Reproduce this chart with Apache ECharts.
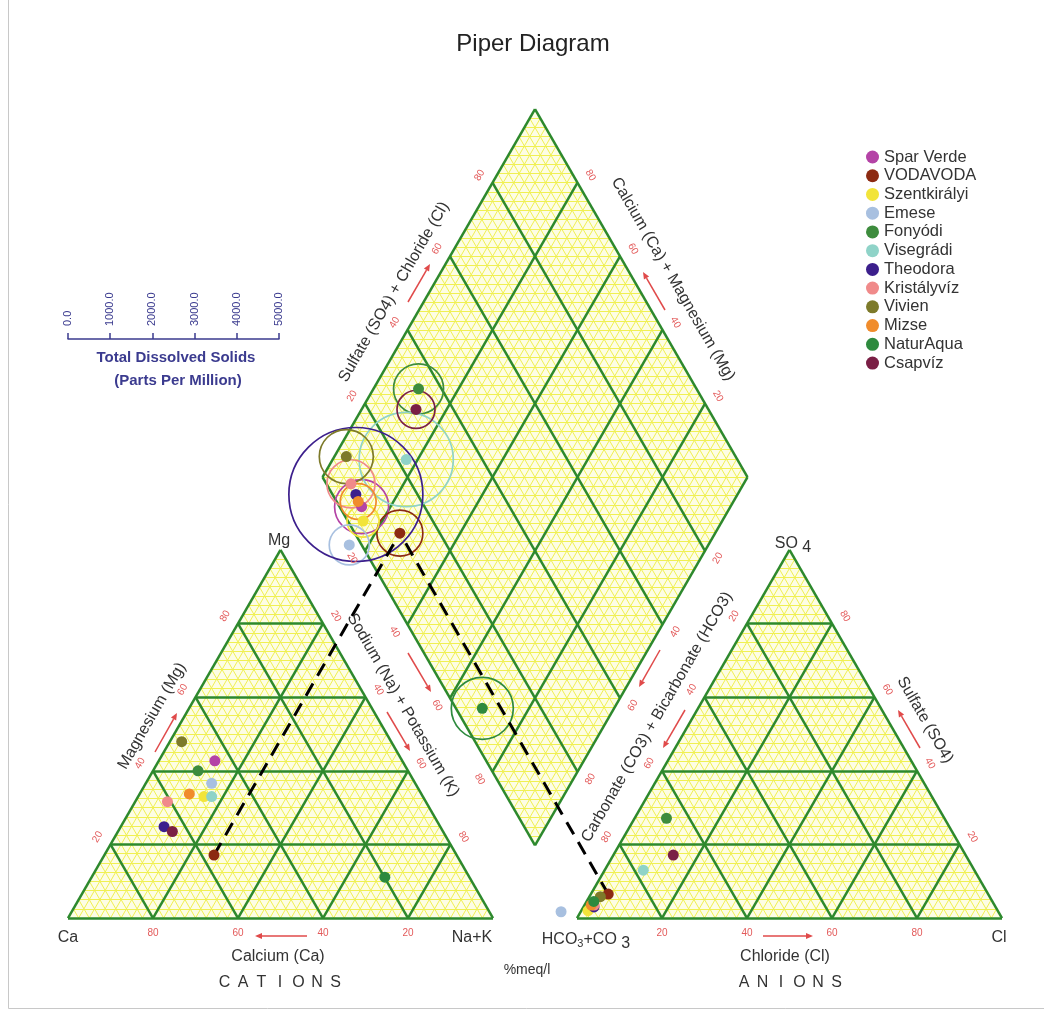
<!DOCTYPE html>
<html><head><meta charset="utf-8">
<script src="https://cdn.jsdelivr.net/npm/echarts@6/dist/echarts.min.js"></script>
<style>html,body{margin:0;padding:0;background:#fff}#c{width:1044px;height:1012px}</style>
</head><body><div id="c"></div>
<script>
// ---------------- DATA ----------------
const samples = ['Spar Verde','VODAVODA','Szentkirályi','Emese','Fonyódi','Visegrádi','Theodora','Kristályvíz','Vivien','Mizse','NaturAqua','Csapvíz'];
const sampleColors = ['#b443a6','#8c2a12','#f2e43a','#a8c0e0','#3d8c3d','#8fd3c8','#3c1f8c','#f08a8a','#7d7a2a','#f08c2c','#2e8a3e','#7a1f45'];
// cations, % meq/l (Ca = 100 - Mg - NaK)
const cationMg  = [42.7, 17.1, 33.0, 36.6, 40.0, 33.0, 24.8, 31.6, 47.9, 33.7, 11.1, 23.5];
const cationNaK = [13.2, 25.8, 15.5, 15.5, 10.6, 17.3, 10.2,  7.6,  2.8, 11.7, 69.0, 12.8];
// anions, % meq/l (HCO3+CO3 = 100 - SO4 - Cl)
const anionSO4  = [ 3.4,  6.5,  2.0,  1.7, 27.1, 13.0,  3.0,  3.5,  5.8,  3.5,  4.5, 17.1];
const anionCl   = [ 1.8,  4.1,  1.6, -4.6,  7.5,  9.1,  2.5,  2.3,  2.6,  1.6,  1.7, 14.1];
// total dissolved solids, ppm
const tdsPpm    = [1280, 1090, 760, 950, 1185, 2230, 3175, 1140, 1280, 850, 1470, 900];
const tickValues = [20, 40, 60, 80];
const tdsScaleMax = 5000, tdsScaleStep = 1000;
const dashedSample = 'VODAVODA';

// ---------------- LAYOUT ----------------
const PX = 4.25;                 // pixels per percent of triangle side
const X0 = 68, Y0 = 918;          // pixel position of the Ca vertex
const GAP = 84 / PX;              // gap between the two triangles (units)
const H = Math.sqrt(3) / 2;
const TDS_LEN_PX = 211;
const F = 'Liberation Sans, Arial, Helvetica, sans-serif';

function cat(mg, nak) { return [nak + mg / 2, mg * H]; }
function an(so4, cl) { return [100 + GAP + cl + so4 / 2, so4 * H]; }
const BX = 100 + GAP / 2, BY = GAP / 2 * Math.sqrt(3);
function dia(a, b) { return [BX + 0.5 * (b - a), BY + H * (a + b)]; }

const catPts = samples.map((s, i) => cat(cationMg[i], cationNaK[i]));
const anPts = samples.map((s, i) => an(anionSO4[i], anionCl[i]));
const diaPts = samples.map((s, i) => dia(100 - cationNaK[i], anionSO4[i] + anionCl[i]));

// grid segments
const minorSegs = [], majorSegs = [];
function triLines(fn, k, arr) {
  arr.push([fn(k, 0), fn(k, 100 - k)]);
  arr.push([fn(0, k), fn(100 - k, k)]);
  arr.push([fn(0, 100 - k), fn(100 - k, 0)]);
}
for (let k = 2.5; k < 100; k += 2.5) {
  triLines(cat, k, minorSegs); triLines(an, k, minorSegs);
  minorSegs.push([dia(k, 0), dia(k, 100)]);
  minorSegs.push([dia(0, k), dia(100, k)]);
}
for (let s = 2.5; s < 200; s += 2.5) {
  if (s <= 100) minorSegs.push([dia(s, 0), dia(0, s)]);
  else minorSegs.push([dia(100, s - 100), dia(s - 100, 100)]);
}
for (let k = 0; k < 100; k += 20) { triLines(cat, k, majorSegs); triLines(an, k, majorSegs); }
for (let k = 0; k <= 100; k += 20) {
  majorSegs.push([dia(k, 0), dia(k, 100)]);
  majorSegs.push([dia(0, k), dia(100, k)]);
}
const shapes = [
  [cat(0, 0), cat(0, 100), cat(100, 0)],
  [an(0, 0), an(0, 100), an(100, 0)],
  [dia(0, 0), dia(100, 0), dia(100, 100), dia(0, 100)]
];

// tick labels
const OFF = 3.5;
const tickItems = [], tickTexts = [];
function addTick(p, n, rot, t) { tickItems.push([p[0] + n[0] * OFF, p[1] + n[1] * OFF, rot]); tickTexts.push(String(t)); }
tickValues.forEach(t => {
  addTick(cat(0, 100 - t), [0, -1], 0, t);
  addTick(cat(t, 0), [-H, 0.5], 60, t);
  addTick(cat(100 - t, t), [H, 0.5], -60, t);
  addTick(an(0, t), [0, -1], 0, t);
  addTick(an(100 - t, 0), [-H, 0.5], 60, t);
  addTick(an(t, 100 - t), [H, 0.5], -60, t);
  addTick(dia(100 - t, 0), [-H, -0.5], -60, t);
  addTick(dia(100, t), [-H, 0.5], 60, t);
  addTick(dia(t, 100), [H, 0.5], -60, t);
  addTick(dia(0, 100 - t), [H, -0.5], 60, t);
});

// ---------------- SERIES ----------------
const series = [];
series.push({
  type: 'custom', name: 'bg', silent: true, z: 1, xAxisIndex: 0, yAxisIndex: 0,
  data: shapes.map((s, i) => [i]),
  renderItem: (params, api) => ({
    type: 'polygon',
    shape: { points: shapes[params.dataIndex].map(p => api.coord(p)) },
    style: { fill: '#fdfde4', stroke: 'none' }
  })
});
series.push({
  type: 'lines', name: 'minor', coordinateSystem: 'cartesian2d', silent: true, z: 2,
  data: minorSegs.map(c => ({ coords: c })),
  lineStyle: { color: '#f0f052', width: 1.0, opacity: 1 }
});
series.push({
  type: 'lines', name: 'major', coordinateSystem: 'cartesian2d', silent: true, z: 3,
  data: majorSegs.map(c => ({ coords: c })),
  lineStyle: { color: '#2d892d', width: 2.5, opacity: 1 }
});
series.push({
  type: 'custom', name: 'tds', silent: true, z: 4,
  data: samples.map((s, i) => [diaPts[i][0], diaPts[i][1], tdsPpm[i] / tdsScaleMax * TDS_LEN_PX / PX / 2]),
  renderItem: (params, api) => {
    const c = api.coord([api.value(0), api.value(1)]);
    const r = api.size([api.value(2), 0])[0];
    return { type: 'circle', shape: { cx: c[0], cy: c[1], r: r },
      style: { fill: 'none', stroke: sampleColors[params.dataIndex], lineWidth: 1.7 } };
  }
});
const di = samples.indexOf(dashedSample);
series.push({
  type: 'lines', name: 'link', coordinateSystem: 'cartesian2d', silent: true, z: 5,
  data: [{ coords: [catPts[di], diaPts[di]] }, { coords: [anPts[di], diaPts[di]] }],
  lineStyle: { color: '#000', width: 3, type: [14, 9], opacity: 1 }
});
samples.forEach((s, i) => {
  series.push({
    type: 'scatter', name: s, z: 6, symbol: 'circle', symbolSize: 11,
    itemStyle: { color: sampleColors[i], opacity: 1 },
    data: [catPts[i], anPts[i], diaPts[i]]
  });
});
series.push({
  type: 'custom', name: 'ticks', silent: true, z: 7,
  data: tickItems,
  renderItem: (params, api) => {
    const c = api.coord([api.value(0), api.value(1)]);
    return { type: 'text', x: c[0], y: c[1], rotation: api.value(2) * Math.PI / 180,
      style: { text: tickTexts[params.dataIndex], fill: '#e35a5a', fontSize: 10, fontFamily: F, align: 'center', verticalAlign: 'middle' } };
  }
});
// TDS scale (separate axis)
series.push({ type: 'scatter', xAxisIndex: 1, yAxisIndex: 1, data: [], silent: true });

// ---------------- GRAPHICS ----------------
const g = [];
function txt(x, y, text, size, opts) {
  g.push(Object.assign({ type: 'text', x: x, y: y, z: 10, silent: true,
    style: Object.assign({ text: text, fill: '#333', fontSize: size, fontFamily: F, align: 'center', verticalAlign: 'middle' }, (opts && opts.style) || {}) },
    opts && opts.rotation !== undefined ? { rotation: opts.rotation } : {}));
}
function arrow(x1, y1, x2, y2) {
  const a = Math.atan2(y2 - y1, x2 - x1), hl = 7, hw = 3;
  const bx = x2 - hl * Math.cos(a), by = y2 - hl * Math.sin(a);
  g.push({ type: 'line', silent: true, z: 10, shape: { x1: x1, y1: y1, x2: bx, y2: by }, style: { stroke: '#e04a4a', lineWidth: 1.5 } });
  g.push({ type: 'polygon', silent: true, z: 10, shape: { points: [[x2, y2], [bx - hw * Math.sin(a), by + hw * Math.cos(a)], [bx + hw * Math.sin(a), by - hw * Math.cos(a)]] }, style: { fill: '#e04a4a' } });
}
txt(533, 44, 'Piper Diagram', 24, { style: { fill: '#222' } });
txt(279, 541, 'Mg', 16);
txt(68, 938, 'Ca', 16);
txt(472, 938, 'Na+K', 16);
txt(278, 957, 'Calcium (Ca)', 16);
txt(999, 938, 'Cl', 16);
txt(785, 957, 'Chloride (Cl)', 16);
txt(527, 970, '%meq/l', 14);
g.push({ type: 'text', x: 586, y: 940, z: 10, silent: true, style: { text: '{a|HCO}{s|3}{a|+CO }{b|3}', fontFamily: F, fill: '#333', align: 'center', verticalAlign: 'middle',
  rich: { a: { fontSize: 16, fontFamily: F, fill: '#333', lineHeight: 22, verticalAlign: 'middle' }, s: { fontSize: 11, fontFamily: F, fill: '#333', lineHeight: 22, padding: [8, 0, 0, 0] }, b: { fontSize: 16, fontFamily: F, fill: '#333', lineHeight: 22, padding: [7, 0, 0, 0] } } } });
g.push({ type: 'text', x: 793, y: 544, z: 10, silent: true, style: { text: '{a|SO }{b|4}', fontFamily: F, fill: '#333', align: 'center', verticalAlign: 'middle',
  rich: { a: { fontSize: 16, fontFamily: F, fill: '#333', lineHeight: 22 }, b: { fontSize: 16, fontFamily: F, fill: '#333', lineHeight: 22, padding: [7, 0, 0, 0] } } } });
'CATIONS'.split('').forEach((ch, i) => txt(224.5 + i * 18.5, 983, ch, 16));
'ANIONS'.split('').forEach((ch, i) => txt(744 + i * 18.5, 983, ch, 16));
txt(152, 716, 'Magnesium (Mg)', 16, { rotation: Math.PI / 3 });
txt(403, 705, 'Sodium (Na) + Potassium (K)', 16, { rotation: -Math.PI / 3 });
txt(394, 292, 'Sulfate (SO4) + Chloride (Cl)', 16, { rotation: Math.PI / 3 });
txt(673, 279, 'Calcium (Ca) + Magnesium (Mg)', 16, { rotation: -Math.PI / 3 });
txt(657, 717, 'Carbonate (CO3) + Bicarbonate (HCO3)', 16, { rotation: Math.PI / 3 });
txt(925, 720, 'Sulfate (SO4)', 16, { rotation: -Math.PI / 3 });
txt(176, 358, 'Total Dissolved Solids', 15, { style: { fill: '#3b3b8f', fontWeight: 'bold' } });
txt(178, 381, '(Parts Per Million)', 15, { style: { fill: '#3b3b8f', fontWeight: 'bold' } });
arrow(307, 936, 255, 936);
arrow(155, 752, 177, 713);
arrow(387, 712, 410, 751);
arrow(408, 653, 431, 692);
arrow(408, 302, 430, 264);
arrow(665, 310, 643, 272);
arrow(660, 650, 639, 687);
arrow(685, 710, 663, 748);
arrow(763, 936, 813, 936);
arrow(920, 748, 898, 710);
g.push({ type: 'line', silent: true, shape: { x1: 8.5, y1: 0, x2: 8.5, y2: 1008.5 }, style: { stroke: '#c8c8c8', lineWidth: 1 } });
g.push({ type: 'line', silent: true, shape: { x1: 8.5, y1: 1008.5, x2: 1044, y2: 1008.5 }, style: { stroke: '#c8c8c8', lineWidth: 1 } });

const option = {
  animation: false,
  backgroundColor: '#fff',
  grid: [
    { left: 0, right: 0, top: 0, bottom: 0, containLabel: false },
    { left: X0, width: TDS_LEN_PX, top: 338, height: 1, containLabel: false }
  ],
  xAxis: [
    { gridIndex: 0, type: 'value', min: -X0 / PX, max: (1044 - X0) / PX, show: false },
    { gridIndex: 1, type: 'value', min: 0, max: tdsScaleMax, interval: tdsScaleStep, position: 'top',
      axisLine: { show: true, lineStyle: { color: '#3b3b8f', width: 1.5 } },
      axisTick: { show: true, inside: false, length: 6, lineStyle: { color: '#3b3b8f', width: 1.5 } },
      axisLabel: { show: true, rotate: 90, margin: 12, fontSize: 11, color: '#3b3b8f', fontFamily: F, formatter: v => v.toFixed(1) },
      splitLine: { show: false } }
  ],
  yAxis: [
    { gridIndex: 0, type: 'value', min: -(1012 - Y0) / PX, max: Y0 / PX, show: false },
    { gridIndex: 1, type: 'value', show: false }
  ],
  legend: {
    orient: 'vertical', left: 866, top: 148.5, padding: 0, itemGap: 1.73,
    itemWidth: 13, itemHeight: 13, icon: 'circle', selectedMode: false,
    data: samples.map(s => ({ name: s, icon: 'circle' })),
    textStyle: { fontSize: 16.5, color: '#333', fontFamily: F, lineHeight: 17 }
  },
  graphic: g,
  series: series
};
const chart = echarts.init(document.getElementById('c'));
chart.setOption(option);
</script></body></html>
